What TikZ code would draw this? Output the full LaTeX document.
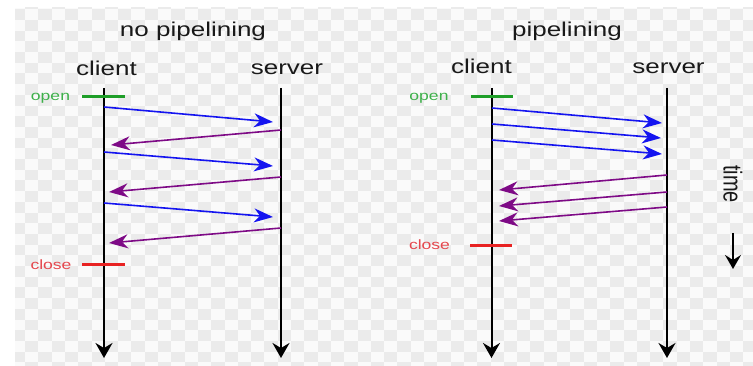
\documentclass[tikz,border=0pt]{standalone}
\usepackage{fontspec}
\setmainfont{Liberation Sans}
\usetikzlibrary{arrows.meta}

\definecolor{msgblue}{HTML}{1414F0}
\definecolor{msgpurple}{HTML}{7E0A86}
\definecolor{opengreen}{HTML}{1E9E28}
\definecolor{closered}{HTML}{E82222}
\definecolor{opentext}{HTML}{3DB04A}
\definecolor{closetext}{HTML}{E5474D}
\definecolor{checkgray}{HTML}{EBEBEB}
\definecolor{checkwhite}{HTML}{FAFAFA}

% the lettering is set a little wider than the font
\newcommand{\wide}[1]{\scalebox{1.3}[1]{#1}}

\begin{document}
\begin{tikzpicture}[x=1pt,y=-1pt,
  lifeline/.style={black, line width=2pt, -{Stealth[length=15pt,width=17pt,inset=5pt]}},
  request/.style={msgblue, line width=1.6pt, -{Stealth[length=19pt,width=14pt,inset=6pt]}},
  reply/.style={msgpurple, line width=1.6pt, -{Stealth[length=19pt,width=14pt,inset=6pt]}},
  heading/.style={font=\fontsize{20}{24}\selectfont, text=black!90, anchor=base, inner sep=0pt},
  actor/.style={font=\fontsize{20}{24}\selectfont, text=black!90, anchor=base, inner sep=0pt},
  tag/.style={font=\fontsize{13.5}{16}\selectfont, anchor=base, inner sep=0pt},
  openbar/.style={opengreen, line width=3pt},
  closebar/.style={closered, line width=3pt}]

\useasboundingbox (0,0) rectangle (753,366);
\fill[white] (0,0) rectangle (753,366);

% checkered backdrop
\fill[checkwhite] (15,8) rectangle (753,366);
\begin{scope}
  \clip (15,8) rectangle (753,366);
  \foreach \i in {0,...,56} {
    \foreach \j in {-1,...,17} {
      \fill[checkgray] ({11.7+13.3*\i},{9.3+10.7*(2*\j+mod(\i,2))}) rectangle +(13.3,10.7);
    }
  }
\end{scope}

% ---------------- no pipelining ----------------
\node[heading] (titleA) at (193,37) {\wide{no pipelining}};
\node[actor] (clientA) at (106.5,76) {\wide{client}};
\node[actor] (serverA) at (287,75) {\wide{server}};

\coordinate (cA-top) at (104,88);  \coordinate (cA-bot) at (104,358);
\coordinate (sA-top) at (281,88);  \coordinate (sA-bot) at (281,358);
\draw[lifeline] (cA-top) -- (cA-bot);
\draw[lifeline] (sA-top) -- (sA-bot);

\node[tag, text=opentext] (openA) at (50.5,101) {\wide{open}};
\coordinate (openA-l) at (82,97);  \coordinate (openA-r) at (125,97);
\draw[openbar] (openA-l) -- (openA-r);

\node[tag, text=closetext] (closeA) at (51,270) {\wide{close}};
\coordinate (closeA-l) at (82,265);  \coordinate (closeA-r) at (125,265);
\draw[closebar] (closeA-l) -- (closeA-r);

\coordinate (qA1s) at (104,107);  \coordinate (qA1e) at (273,122);
\coordinate (rA1s) at (281,130);  \coordinate (rA1e) at (111,145);
\coordinate (qA2s) at (104,152);  \coordinate (qA2e) at (273,166);
\coordinate (rA2s) at (281,177);  \coordinate (rA2e) at (109,192);
\coordinate (qA3s) at (104,203);  \coordinate (qA3e) at (273,217);
\coordinate (rA3s) at (281,228);  \coordinate (rA3e) at (109,243);
\draw[request] (qA1s) -- (qA1e);
\draw[reply]   (rA1s) -- (rA1e);
\draw[request] (qA2s) -- (qA2e);
\draw[reply]   (rA2s) -- (rA2e);
\draw[request] (qA3s) -- (qA3e);
\draw[reply]   (rA3s) -- (rA3e);

% ---------------- pipelining ----------------
\node[heading] (titleB) at (567,37) {\wide{pipelining}};
\node[actor] (clientB) at (481.5,74) {\wide{client}};
\node[actor] (serverB) at (668.5,74) {\wide{server}};

\coordinate (cB-top) at (491.5,88);  \coordinate (cB-bot) at (491.5,358);
\coordinate (sB-top) at (667,88);    \coordinate (sB-bot) at (667,358);
\draw[lifeline] (cB-top) -- (cB-bot);
\draw[lifeline] (sB-top) -- (sB-bot);

\node[tag, text=opentext] (openB) at (429,101) {\wide{open}};
\coordinate (openB-l) at (471,97);  \coordinate (openB-r) at (513,97);
\draw[openbar] (openB-l) -- (openB-r);

\node[tag, text=closetext] (closeB) at (429.5,250) {\wide{close}};
\coordinate (closeB-l) at (470,245.5);  \coordinate (closeB-r) at (512,245.5);
\draw[closebar] (closeB-l) -- (closeB-r);

\coordinate (qB1s) at (492,108);  \coordinate (qB1e) at (662,123);
\coordinate (qB2s) at (492,124);  \coordinate (qB2e) at (661,138);
\coordinate (qB3s) at (492,140);  \coordinate (qB3e) at (662,154);
\coordinate (rB1s) at (667,175);  \coordinate (rB1e) at (499,190);
\coordinate (rB2s) at (667,192);  \coordinate (rB2e) at (499,206);
\coordinate (rB3s) at (667,207);  \coordinate (rB3e) at (499,221);
\draw[request] (qB1s) -- (qB1e);
\draw[request] (qB2s) -- (qB2e);
\draw[request] (qB3s) -- (qB3e);
\draw[reply]   (rB1s) -- (rB1e);
\draw[reply]   (rB2s) -- (rB2e);
\draw[reply]   (rB3s) -- (rB3e);

% time axis
\node[font=\fontsize{20}{24}\selectfont, text=black!90, rotate=-90, inner sep=0pt] (time) at (733,184) {\scalebox{1}[1.3]{time}};
\coordinate (time-top) at (733,233);  \coordinate (time-bot) at (733,269);
\draw[black, line width=2pt, -{Stealth[length=14pt,width=16pt,inset=5pt]}] (time-top) -- (time-bot);

\end{tikzpicture}
\end{document}
